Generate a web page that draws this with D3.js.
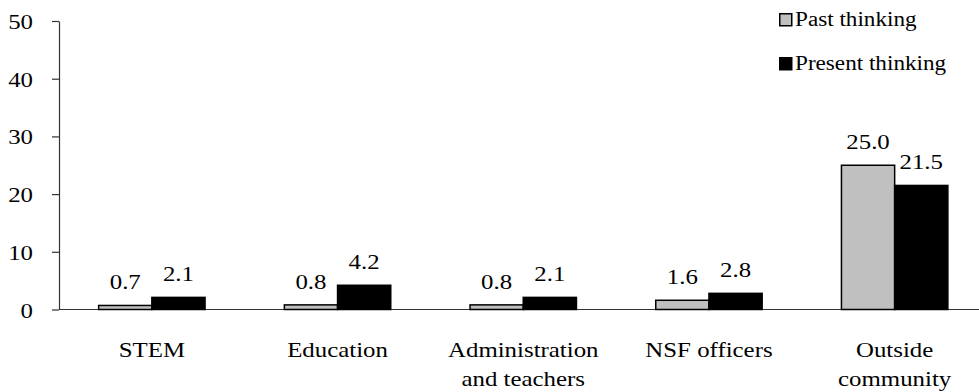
<!DOCTYPE html>
<html>
<head>
<meta charset="utf-8">
<script src="https://cdn.jsdelivr.net/npm/d3@7"></script>
<style>
  body { margin: 0; background: #fff; }
</style>
</head>
<body>
<div id="chart"></div>
<script>
const categories = [["STEM"], ["Education"], ["Administration", "and teachers"], ["NSF officers"], ["Outside", "community"]];
const pastThinking = [0.7, 0.8, 0.8, 1.6, 25.0];
const presentThinking = [2.1, 4.2, 2.1, 2.8, 21.5];
const seriesNames = ["Past thinking", "Present thinking"];
const yTicks = [0, 10, 20, 30, 40, 50];

const W = 979, H = 392;
const FONT = "'Liberation Serif', 'Times New Roman', Times, serif";
const stretch = 1.13; // the source text is a bit wider than plain Times

const svg = d3.select("#chart").append("svg")
    .attr("width", W)
    .attr("height", H);

const color = d3.scaleOrdinal().domain(seriesNames).range(["#c0c0c0", "#000000"]);

const x0 = d3.scaleBand()
    .domain(d3.range(categories.length))
    .range([59, 987.5])
    .paddingInner(0.427)
    .paddingOuter(0.2135);

const x1 = d3.scaleBand()
    .domain(seriesNames)
    .range([0, x0.bandwidth()]);

const y = d3.scaleLinear().domain([0, 50]).range([309.5, 21]);

function stretchedText(g, x, yy, str, size, anchor) {
    g.append("text")
        .attr("transform", `translate(${x},${yy}) scale(${stretch},1)`)
        .attr("text-anchor", anchor)
        .attr("font-family", FONT)
        .attr("font-size", size)
        .attr("fill", "#000")
        .text(str);
}

// y axis
const yAxis = svg.append("g")
    .attr("transform", "translate(59,0)")
    .call(d3.axisLeft(y).tickValues(yTicks).tickSize(7).tickSizeOuter(0).tickFormat(""));
yAxis.selectAll("path, line").attr("stroke", "#333").attr("stroke-width", 1.2);
yAxis.selectAll(".tick").each(function(d) {
    stretchedText(d3.select(this), -26, 7.5, d3.format("d")(d), 22, "end");
});

// baseline
svg.append("line")
    .attr("x1", 59).attr("x2", W)
    .attr("y1", y(0)).attr("y2", y(0))
    .attr("stroke", "#333").attr("stroke-width", 1.2);

// bars
const rows = categories.map((c, i) => ({
    i: i,
    values: [
        { name: seriesNames[0], v: pastThinking[i] },
        { name: seriesNames[1], v: presentThinking[i] }
    ]
}));

const groups = svg.selectAll(".cat")
    .data(rows)
    .join("g")
    .attr("class", "cat")
    .attr("transform", d => `translate(${x0(d.i)},0)`);

groups.selectAll("rect")
    .data(d => d.values)
    .join("rect")
    .attr("x", d => x1(d.name))
    .attr("y", d => y(d.v))
    .attr("width", x1.bandwidth())
    .attr("height", d => y(0) - y(d.v))
    .attr("fill", d => color(d.name))
    .attr("stroke", "#000")
    .attr("stroke-width", 1.5);

groups.each(function(d) {
    const g = d3.select(this);
    d.values.forEach(v => {
        stretchedText(g, x1(v.name) + x1.bandwidth() / 2, y(v.v) - 16, v.v.toFixed(1), 22, "middle");
    });
});

// category labels
categories.forEach((lines, i) => {
    const cx = x0(i) + x0.bandwidth() / 2;
    lines.forEach((l, k) => {
        stretchedText(svg, cx, 357 + k * 28.5, l, 22, "middle");
    });
});

// legend
const legend = svg.append("g").attr("transform", "translate(779,13)");
seriesNames.forEach((s, k) => {
    const row = legend.append("g").attr("transform", `translate(0,${k * 44})`);
    row.append("rect")
        .attr("x", 0.75).attr("y", 0.75)
        .attr("width", 12).attr("height", 12)
        .attr("fill", color(s))
        .attr("stroke", "#000").attr("stroke-width", 1.5);
    stretchedText(row, 16, 13, s, 20.5, "start");
});
</script>
</body>
</html>
